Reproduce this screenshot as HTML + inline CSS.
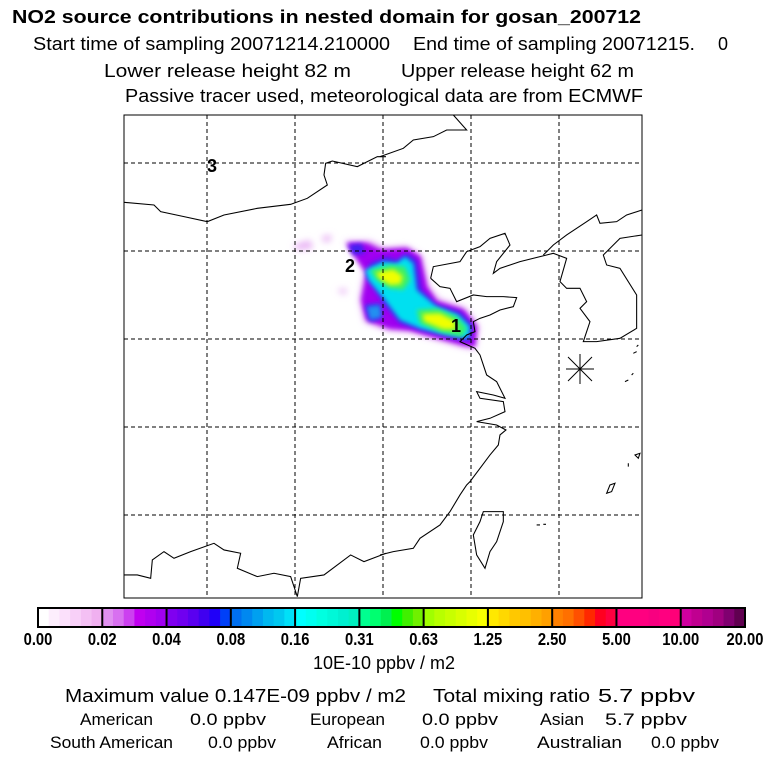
<!DOCTYPE html>
<html><head><meta charset="utf-8"><style>
body{margin:0;background:#fff;width:768px;height:768px;overflow:hidden;font-family:"Liberation Sans",sans-serif;}
svg{position:absolute;left:0;top:0}
text{font-family:"Liberation Sans",sans-serif;fill:#000}
</style></head><body>
<svg id="s" width="768" height="768">
<defs><filter id="bl" x="-50%" y="-50%" width="200%" height="200%"><feGaussianBlur stdDeviation="10"/></filter>
<filter id="bl2" x="-50%" y="-50%" width="200%" height="200%"><feGaussianBlur stdDeviation="7"/></filter></defs>
<text x="12" y="23" font-size="18" font-weight="bold" textLength="629" lengthAdjust="spacingAndGlyphs">NO2 source contributions in nested domain for gosan_200712</text>
<g font-size="18">
<text x="33" y="50" textLength="357" lengthAdjust="spacingAndGlyphs">Start time of sampling 20071214.210000</text>
<text x="413" y="50" textLength="282" lengthAdjust="spacingAndGlyphs">End time of sampling 20071215.</text>
<text x="718" y="50">0</text>
</g>
<g font-size="18">
<text x="104" y="77" textLength="247" lengthAdjust="spacingAndGlyphs">Lower release height   82 m</text>
<text x="401" y="77" textLength="233" lengthAdjust="spacingAndGlyphs">Upper release height   62 m</text>
</g>
<text x="125" y="102" font-size="18" textLength="518" lengthAdjust="spacingAndGlyphs">Passive tracer used, meteorological data are from ECMWF</text>
<g id="map"></g>
<g id="cb"></g>
<text x="384" y="669" font-size="18" text-anchor="middle">10E-10 ppbv / m2</text>
<g font-size="18">
<text x="65" y="702" textLength="341" lengthAdjust="spacingAndGlyphs">Maximum value  0.147E-09 ppbv / m2</text>
<text x="433" y="702" textLength="157" lengthAdjust="spacingAndGlyphs">Total mixing ratio</text>
<text x="598" y="702" textLength="97" lengthAdjust="spacingAndGlyphs">5.7 ppbv</text>
</g>
<g font-size="16.5">
<text x="80" y="725" textLength="73" lengthAdjust="spacingAndGlyphs">American</text><text x="190" y="725" textLength="76" lengthAdjust="spacingAndGlyphs">0.0 ppbv</text>
<text x="310" y="725" textLength="75" lengthAdjust="spacingAndGlyphs">European</text><text x="422" y="725" textLength="76" lengthAdjust="spacingAndGlyphs">0.0 ppbv</text>
<text x="540" y="725" textLength="44" lengthAdjust="spacingAndGlyphs">Asian</text><text x="605" y="725" textLength="82" lengthAdjust="spacingAndGlyphs">5.7 ppbv</text>
<text x="50" y="748" textLength="123" lengthAdjust="spacingAndGlyphs">South American</text><text x="208" y="748" textLength="68" lengthAdjust="spacingAndGlyphs">0.0 ppbv</text>
<text x="327" y="748" textLength="55" lengthAdjust="spacingAndGlyphs">African</text><text x="420" y="748" textLength="68" lengthAdjust="spacingAndGlyphs">0.0 ppbv</text>
<text x="537" y="748" textLength="85" lengthAdjust="spacingAndGlyphs">Australian</text><text x="651" y="748" textLength="68" lengthAdjust="spacingAndGlyphs">0.0 ppbv</text>
</g>
</svg>
<script>
const levels=["0.00","0.02","0.04","0.08","0.16","0.31","0.63","1.25","2.50","5.00","10.00","20.00"];
const segColors=[
["#ffffff","#fdeefd","#fbe0fb","#f8d0f8","#f4c0f4","#f0b0f0"],
["#e090f0","#d870f0","#cc40f0","#c000f0","#b000f0","#a000f0"],
["#8000f0","#7000f0","#5a00f0","#4000f0","#2000f8","#0040f8"],
["#0070f0","#0088f0","#00a0f0","#00b8f0","#00c8f0","#00e0f8"],
["#00ffff","#00fff0","#00ffe0","#00f8d8","#00f0d0","#00f0c0"],
["#00ff90","#00ff70","#00f050","#00ff00","#40f000","#70f000"],
["#a0ff00","#b8ff00","#c8ff00","#d8ff00","#e8ff00","#f8ff00"],
["#ffe800","#ffd800","#ffc800","#ffc000","#ffb000","#ffa000"],
["#ff8000","#ff7000","#ff5000","#ff2800","#ff0020","#ff0040"],
["#ff0080","#ff0080","#ff0080","#f80080","#ff0080","#ff0078"],
["#d000a0","#c00090","#b00090","#a00080","#800070","#600050"]];
const NS="http://www.w3.org/2000/svg";
function mk(t,a,p){const e=document.createElementNS(NS,t);for(const k in a)e.setAttribute(k,a[k]);p.appendChild(e);return e;}
const cb=document.getElementById('cb');
const x0=38,x1=745,y0=608,h=19,sw=(x1-x0)/segColors.length;
segColors.forEach((seg,i)=>{seg.forEach((c,j)=>{
 const r=mk('rect',{x:x0+i*sw+j*sw/seg.length,y:y0,width:sw/seg.length+0.5,height:h,fill:c},cb);
 
 
});});
for(let i=0;i<=segColors.length;i++){mk('line',{x1:x0+i*sw,x2:x0+i*sw,y1:y0,y2:y0+h,stroke:'#000','stroke-width':2},cb);}
mk('rect',{x:x0,y:y0,width:x1-x0,height:h,fill:'none',stroke:'#000','stroke-width':2},cb);
levels.forEach((t,i)=>{const e=mk('text',{x:x0+i*sw,y:645,'font-size':18,'font-weight':'bold','text-anchor':'middle',transform:'translate('+(x0+i*sw)+',0) scale(0.82,1) translate('+(-(x0+i*sw))+',0)'},cb);e.textContent=t;
 
 });
const m=document.getElementById('map');
const gx=[207,295,383,471,559], gy=[163,251,339,427,515];
const pl=mk('g',{transform:'translate(290,230) scale(0.3333)'},m);


const plumeLayers=[
["#e8b0f4","M10,45 L60,30 L70,55 L20,60Z M95,20 L125,15 L120,35 L100,35Z M140,180 L170,175 L165,195Z",'bl'],
["#d070f0","M165,35 L240,35 L280,55 L350,50 L395,78 L415,170 L445,208 L525,235 L565,290 L555,355 L520,350 L430,325 L360,305 L295,300 L225,275 L210,210 L225,125 Z",'bl'],
["#a000f0","M170,40 L230,40 L270,60 L350,55 L390,80 L410,170 L440,215 L520,240 L560,290 L555,350 L520,345 L430,320 L360,300 L300,295 L230,270 L215,210 L230,130 Z",'bl2'],
["#4020f0","M175,45 L215,40 L225,70 L190,75Z M225,225 L270,220 L275,265 L240,275Z M240,100 L290,80 L320,90 L350,70 L380,90 L395,180 L440,225 L510,245 L548,285 L540,335 L470,320 L390,300 L330,280 L280,220 L230,140Z",'bl2'],
["#00e0f0","M225,120 L280,95 L320,100 L345,80 L370,100 L380,180 L440,230 L505,255 L540,290 L535,325 L470,315 L390,295 L330,270 L285,210 L235,150Z",'bl2'],
["#40f060","M240,120 L300,105 L345,110 L360,150 L340,180 L300,175 L260,150Z M380,240 L440,235 L500,260 L530,295 L515,320 L450,305 L390,280Z",'bl2'],
["#f0ff00","M258,128 L310,118 L338,138 L332,162 L300,165 L268,145Z M398,252 L450,250 L492,272 L500,298 L460,298 L402,274Z",'bl2'],
["#2090f0","M230,230 L270,225 L275,262 L240,270Z",'bl2']];
plumeLayers.forEach(([c,d,f])=>{mk('path',{d:d,fill:c,filter:'url(#'+f+')'},pl);});
gx.forEach(x=>{const l=mk('line',{x1:x,x2:x,y1:115,y2:598,stroke:'#000','stroke-dasharray':'4,3','stroke-width':1},m);});
gy.forEach(y=>{const l=mk('line',{x1:124,x2:642,y1:y,y2:y,stroke:'#000','stroke-dasharray':'4,3','stroke-width':1},m);});
const cl=mk('g',{fill:'none',stroke:'#000','stroke-width':3.2},m);


const L=mk('g',{transform:'translate(124,115) scale(0.3333)'},cl);
const R=mk('g',{transform:'translate(380,115) scale(0.3333)'},cl);
const leftPaths=["M0,262 L90,270 L110,290 L180,305 L250,320 L300,300 L400,280 L500,268 L550,250 L610,210 L600,180 L605,145 L625,138 L700,155 L760,125 L786,125",
"M0,1380 L40,1380 L80,1390 L85,1335 L120,1310 L150,1330 L200,1310 L270,1285 L300,1305 L350,1315 L340,1360 L400,1385 L450,1375 L500,1385 L520,1445 L530,1390 L600,1380 L680,1320 L720,1340 L786,1315"];
const rightPaths=["M0,125 L70,100 L100,75 L160,65 L200,45 L260,45 L220,0",
"M490,420 L520,390 L560,360 L620,320 L650,300 L660,325 L710,320 L740,300 L786,285",
"M152,490 L160,455 L240,440 L260,410 L300,395 L330,370 L375,355 L390,390 L350,440 L340,475 L360,460 L420,440 L520,415 L560,430 L540,500 L560,520 L600,520 L620,560 L600,580 L630,620 L610,680 L650,680 L720,670 L770,640 L770,540 L720,460 L680,450 L670,420 L720,370 L786,360",
"M152,490 L180,515 L210,520 L230,560 L280,540 L320,545 L370,545 L410,548 L400,575 L360,585 L330,600 L300,610 L280,620 L285,650 L260,660 L240,680 L285,700 L300,720 L320,780 L350,800 L375,850 L340,840 L290,830 L300,850 L370,860 L375,890 L330,910 L290,920 L350,930 L378,945 L360,960 L355,990 L330,1020 L300,1060 L270,1100 L260,1110 L240,1140 L210,1190 L180,1230 L120,1270 L100,1300 L40,1310 L0,1320",
"M310,1190 L370,1190 L370,1220 L350,1280 L330,1310 L315,1360 L290,1320 L280,1260 L300,1220 Z",
"M680,1135 L690,1110 L705,1105 L695,1130 Z M765,1020 L780,1015 L775,1030 Z M745,1045 L745,1055 M735,800 L745,795 M755,780 L760,775 M760,715 L770,710 M770,695 L775,690 M470,1230 L480,1230 M490,1228 L498,1228"];
leftPaths.forEach(d=>mk('path',{d:d},L));
rightPaths.forEach(d=>mk('path',{d:d},R));
const st=mk('g',{stroke:'#000','stroke-width':1},m);


[[568,357,592,381],[568,381,592,357],[580,354,580,384],[566,369,594,369]].forEach(a=>mk('line',{x1:a[0],y1:a[1],x2:a[2],y2:a[3]},st));
[["3",212,172],["2",350,272],["1",456,332]].forEach(([t,x,y])=>{const e=mk('text',{x:x,y:y,'font-size':18,'font-weight':'bold','text-anchor':'middle'},m);e.textContent=t;
 
 });
mk('rect',{x:124,y:115,width:518,height:483,fill:'none',stroke:'#000','stroke-width':1},m);
</script>
</body></html>
